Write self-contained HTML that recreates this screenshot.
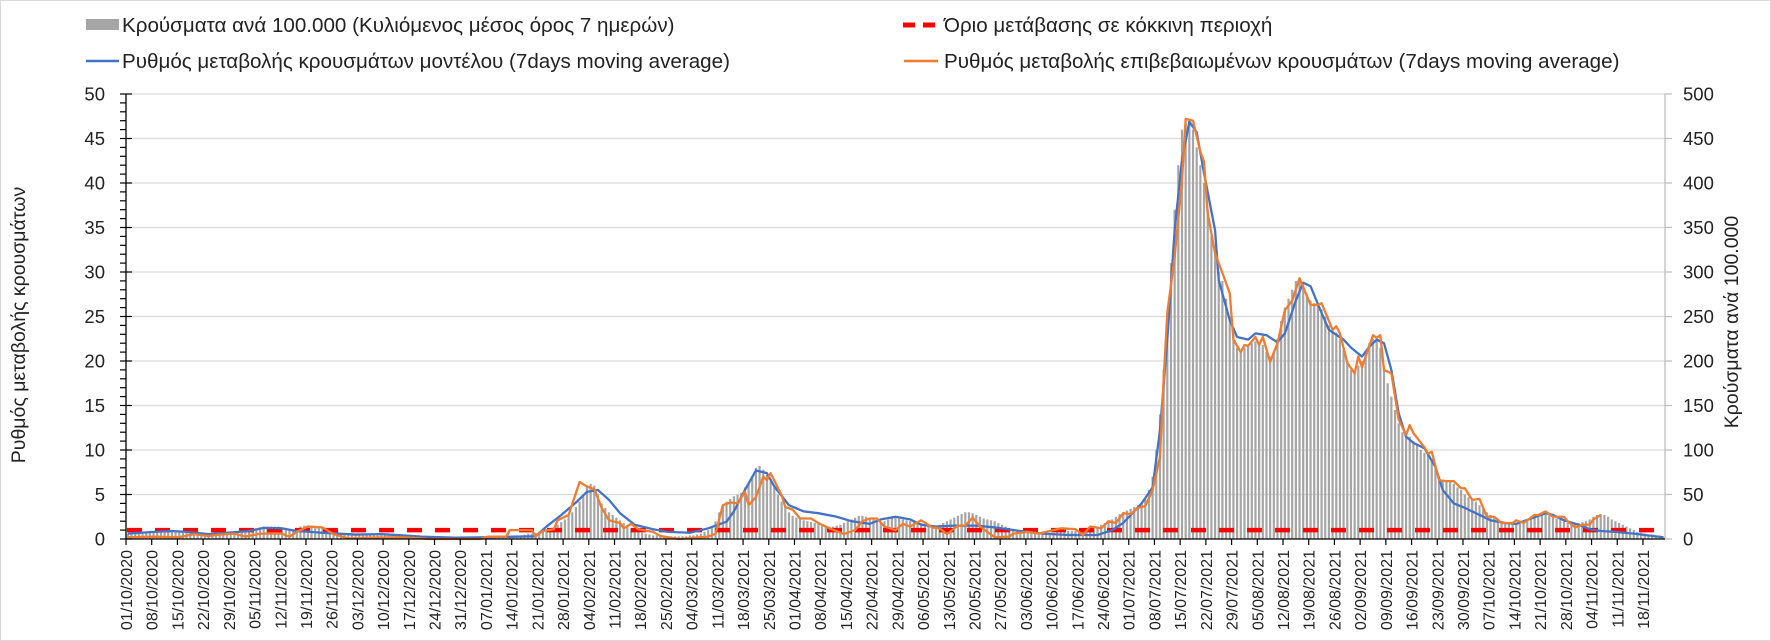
<!DOCTYPE html>
<html><head><meta charset="utf-8"><style>
html,body{margin:0;padding:0;background:#fff;}
svg{display:block;font-family:"Liberation Sans","DejaVu Sans",sans-serif;}
</style></head><body>
<svg id="chart" width="1771" height="641" viewBox="0 0 1771 641" xmlns="http://www.w3.org/2000/svg">
<rect x="0.5" y="0.5" width="1770" height="640" fill="#fff" stroke="#d9d9d9"/>
<g id="grid"></g>
<g id="bars"></g>
<g id="lines"></g>
<g id="axes"></g>
<g font-size="20.6" fill="#222">
  <g>
    <rect x="86" y="19" width="33" height="11" fill="#a5a5a5"/>
    <text x="122" y="32">Κρούσματα ανά 100.000 (Κυλιόμενος μέσος όρος 7 ημερών)</text>
  </g>
  <g>
    <line x1="903" y1="25" x2="938" y2="25" stroke="#ff0000" stroke-width="5" stroke-dasharray="12,8"/>
    <text x="944" y="32">Όριο μετάβασης σε κόκκινη περιοχή</text>
  </g>
  <g>
    <line x1="86" y1="61" x2="119" y2="61" stroke="#4472c4" stroke-width="2.5"/>
    <text x="122" y="68">Ρυθμός μεταβολής κρουσμάτων μοντέλου (7days moving average)</text>
  </g>
  <g>
    <line x1="904" y1="61" x2="938" y2="61" stroke="#ed7d31" stroke-width="2.5"/>
    <text x="944" y="68">Ρυθμός μεταβολής επιβεβαιωμένων κρουσμάτων (7days moving average)</text>
  </g>
</g>
<text transform="translate(25,325) rotate(-90)" text-anchor="middle" font-size="19.5" fill="#222">Ρυθμός μεταβολής κρουσμάτων</text>
<text transform="translate(1738,322) rotate(-90)" text-anchor="middle" font-size="19.5" fill="#222">Κρούσματα ανά 100.000</text>
</svg>
<script>
const startDate = [2020, 10, 1];
const nDays = 419;
const leftTicks = [0,5,10,15,20,25,30,35,40,45,50];
const rightTicks = [0,50,100,150,200,250,300,350,400,450,500];
const threshold = 1;
const bars = [
6,6,6,7,7,7,7,8,8,8, 8,8,8,9,9,8,8,7,7,6, 6,6,6,6,7,7,7,7,8,8, 8,9,9,10,11,12,13,14,14,14,
14,14,13,12,11,11,12,14,15,15, 15,14,13,12,11,10,9,8,7,6, 6,5,5,5,5,6,6,5,5,5, 5,4,4,4,4,4,3,3,2,2,
1,1,1,1,1,1,1,1,1,1, 1,1,1,1,1,1,1,1,1,2, 2,2,2,2,3,3,4,4,5,6, 6,7,8,9,10,11,13,16,19,22,
26,30,36,42,50,58,62,60,50,40, 35,30,27,24,21,18,15,12,10,8, 7,6,5,4,4,3,3,3,3,3, 3,3,3,4,4,5,6,8,10,14,
20,30,38,42,45,48,50,52,58,62, 70,80,82,78,72,65,58,50,42,36, 30,26,24,22,21,20,19,18,17,16, 15,14,14,15,16,18,20,22,24,26,
26,25,24,22,20,19,20,22,24,24, 23,22,21,20,20,19,18,17,16,15, 15,16,18,20,22,24,26,28,30,30, 29,27,25,23,22,21,20,18,16,14,
12,11,10,9,8,8,8,7,7,7, 7,7,7,8,8,8,9,9,9,9, 10,10,11,12,14,16,18,20,22,25, 28,30,32,34,36,38,40,45,55,70,
100,140,190,250,310,370,420,460,470,470, 460,440,420,400,370,340,320,300,290,270, 250,230,215,212,215,218,220,222,220,218,
210,205,210,225,245,260,270,280,290,292, 285,275,268,265,262,258,250,240,235,232, 225,215,200,190,188,195,200,210,220,225,
228,215,190,175,160,145,130,120,118,115, 110,105,100,97,95,90,80,70,66,65, 64,62,58,55,50,47,45,42,38,34,
30,27,25,22,20,19,18,18,17,17, 18,20,22,25,27,28,28,27,25,23, 22,20,18,17,17,18,19,20,22,25,
27,28,27,25,22,20,18,16,14,12, 10,8,7,6,5,5,4,4,3];
const blueDays = [0,7,12,16,22,27,33,37,42,46,53,62,69,75,80,89,98,105,111,114,118,122,125,128,131,134,138,143,147,153,158,163,165,168,171,174,176,180,184,188,193,197,202,205,209,213,216,220,225,231,236,243,249,256,264,268,271,276,279,281,283,285,287,289,291,293,296,297,300,302,305,307,310,313,315,318,320,322,325,327,331,333,336,338,340,342,344,346,348,350,353,356,358,361,364,367,371,375,378,382,386,388,391,395,398,401,405,410,418];
const blueVals = [0.6,0.8,0.9,0.8,0.55,0.7,0.9,1.25,1.2,0.9,0.7,0.5,0.55,0.4,0.26,0.15,0.2,0.26,0.3,1.4,2.7,4.1,5.3,5.5,4.4,2.9,1.6,1.1,0.8,0.7,1.2,1.95,3.1,5.5,7.7,7.4,5.9,3.8,3.1,2.9,2.5,2.0,1.7,2.2,2.5,2.2,1.6,1.4,1.5,1.5,1.3,0.9,0.6,0.45,0.45,1.0,1.8,4.0,5.8,12.2,22.4,34.7,42.6,46.9,45.7,41.1,34.7,29.1,24.6,22.7,22.4,23.1,22.9,22.1,23.1,26.8,28.8,28.4,25.4,23.5,22.4,21.5,20.5,21.6,22.4,22.0,19.0,14.1,11.5,10.8,10.2,8.1,5.5,4.0,3.5,2.9,2.1,1.8,1.7,2.3,2.9,2.7,2.1,1.6,1.1,0.9,0.8,0.6,0.2];
const orangeDays = [0,7,14,18,22,25,29,32,36,42,44,46,49,53,56,60,66,75,82,96,98,103,104,110,111,113,116,117,120,123,125,127,129,131,134,135,137,139,143,145,150,158,160,162,164,166,168,169,171,173,174,175,178,179,181,183,186,188,191,195,198,200,202,204,206,209,211,213,216,219,221,223,226,228,230,232,236,240,241,245,248,251,254,258,260,262,265,267,269,271,273,275,277,279,281,282,283,285,287,288,290,292,293,294,296,298,300,301,303,304,305,307,308,309,311,313,315,317,319,322,324,325,328,329,330,332,334,335,336,339,340,341,342,344,346,348,349,350,353,354,355,357,359,361,363,364,366,368,370,372,374,377,378,380,383,384,386,388,391,392,394,396,398,399,401];
const orangeVals = [0.2,0.26,0.2,0.55,0.34,0.5,0.6,0.26,0.6,0.6,0.26,0.8,1.4,1.3,0.55,0.07,0.15,0.2,0,0,0.26,0.26,1.0,1.0,0.3,0.9,1.1,2.1,2.7,6.4,5.9,5.6,3.5,2.1,1.8,1.2,1.7,1.1,0.8,0.34,0,0.26,0.6,3.8,4.1,4.0,5.3,3.8,4.7,7.0,6.6,7.4,4.9,3.6,3.3,2.3,2.3,1.8,1.2,0.55,1.0,2.0,2.3,2.3,1.4,1.0,1.7,1.4,2.1,1.3,1.2,0.55,1.5,1.5,2.4,1.4,0.2,0.26,0.6,0.8,0.6,0.9,1.2,1.1,0.45,1.4,1.2,2.0,1.8,2.9,2.8,3.5,3.7,5.5,9.2,17.9,25.4,31.7,40.3,47.2,47.0,43.5,42.4,36.6,32.1,29.9,27.6,22.4,21.0,21.8,21.7,22.7,21.8,22.7,19.9,22.0,25.7,26.8,29.3,26.3,26.3,26.5,23.5,23.9,23.1,19.8,18.6,20.5,19.3,22.9,22.6,22.9,19.0,18.6,13.4,11.7,12.8,11.9,10.3,9.6,9.8,6.6,6.5,6.5,5.7,5.7,4.4,4.5,2.5,2.5,1.8,1.8,2.1,1.8,2.7,2.7,3.1,2.5,2.5,2.0,1.3,1.6,1.6,2.2,2.7];

const NS = 'http://www.w3.org/2000/svg';
const X0 = 126, X1 = 1665, Y0 = 539, Y1 = 94;
const dayW = (X1 - X0) / nDays;
function xDay(d){ return X0 + (d + 0.5) * dayW; }
function xTick(d){ return X0 + d * dayW; }
function yL(v){ return Y0 - v / 50 * (Y0 - Y1); }
function yR(v){ return Y0 - v / 500 * (Y0 - Y1); }
function mk(tag, attrs, parent){
  const e = document.createElementNS(NS, tag);
  for (const k in attrs) e.setAttribute(k, attrs[k]);
  parent.appendChild(e); return e;
}
const grid = document.getElementById('grid');
const axes = document.getElementById('axes');
leftTicks.forEach((t) => {
  if (t > 0) {
    const g = mk('line', {x1:X0, x2:X1, y1:yL(t), y2:yL(t), stroke:'#d9d9d9', 'stroke-width':1.3}, grid);
    
    
  }
  const lt = mk('text', {x:105, y:yL(t)+6.5, 'text-anchor':'end', 'font-size':18.5, fill:'#222'}, axes);
  lt.textContent = t;
  
  
});
rightTicks.forEach((t) => {
  const rt = mk('text', {x:1683, y:yR(t)+6.5, 'font-size':18.5, fill:'#222'}, axes);
  rt.textContent = t;
  
  
  mk('line', {x1:X1, x2:X1+7, y1:yR(t), y2:yR(t), stroke:'#bfbfbf', 'stroke-width':1.3}, axes);
});
for (let v = 0; v <= 50; v++) {
  const major = v % 5 === 0;
  mk('line', {x1:X0-6, x2:major?X0+6:X0, y1:yL(v), y2:yL(v), stroke:'#000', 'stroke-width':1.2}, axes);
}
mk('line', {x1:X1, x2:X1, y1:Y1, y2:Y0, stroke:'#bfbfbf', 'stroke-width':1.3}, axes);

const barsG = document.getElementById('bars');
bars.forEach((v, i) => {
  const b = mk('rect', {x:xDay(i)-1.1, y:yR(v), width:2.2, height:Math.max(0, Y0 - yR(v)), fill:'#a5a5a5'}, barsG);
  
  
});

const linesG = document.getElementById('lines');
const th = mk('line', {x1:X0+1, x2:X1, y1:yL(threshold), y2:yL(threshold), stroke:'#ff0000', 'stroke-width':4.5, 'stroke-dasharray':'15,13'}, linesG);


const bl = mk('polyline', {points: blueDays.map((d,i)=>xDay(d)+','+yL(blueVals[i])).join(' '), fill:'none', stroke:'#4472c4', 'stroke-width':2.3, 'stroke-linejoin':'round'}, linesG);


const ol = mk('polyline', {points: orangeDays.map((d,i)=>xDay(d)+','+yL(orangeVals[i])).join(' '), fill:'none', stroke:'#ed7d31', 'stroke-width':2.3, 'stroke-linejoin':'round'}, linesG);



mk('line', {x1:X0, x2:X0, y1:Y1, y2:Y0, stroke:'#000', 'stroke-width':1.3}, axes);
mk('line', {x1:X0, x2:X1, y1:Y0, y2:Y0, stroke:'#000', 'stroke-width':1.3}, axes);
const pad = (n) => (n < 10 ? '0' : '') + n;
for (let d = 0; d < nDays; d += 7) {
  const x = xTick(d);
  mk('line', {x1:x, x2:x, y1:Y0, y2:Y0+6, stroke:'#000', 'stroke-width':1.2}, axes);
  const dt = new Date(startDate[0], startDate[1]-1, startDate[2] + d);
  const lab = mk('text', {transform:'translate('+(x+6)+',550) rotate(-90)', 'text-anchor':'end', 'font-size':16, fill:'#222'}, axes);
  lab.textContent = pad(dt.getDate()) + '/' + pad(dt.getMonth()+1) + '/' + dt.getFullYear();
  
  
}
</script>
</body></html>
